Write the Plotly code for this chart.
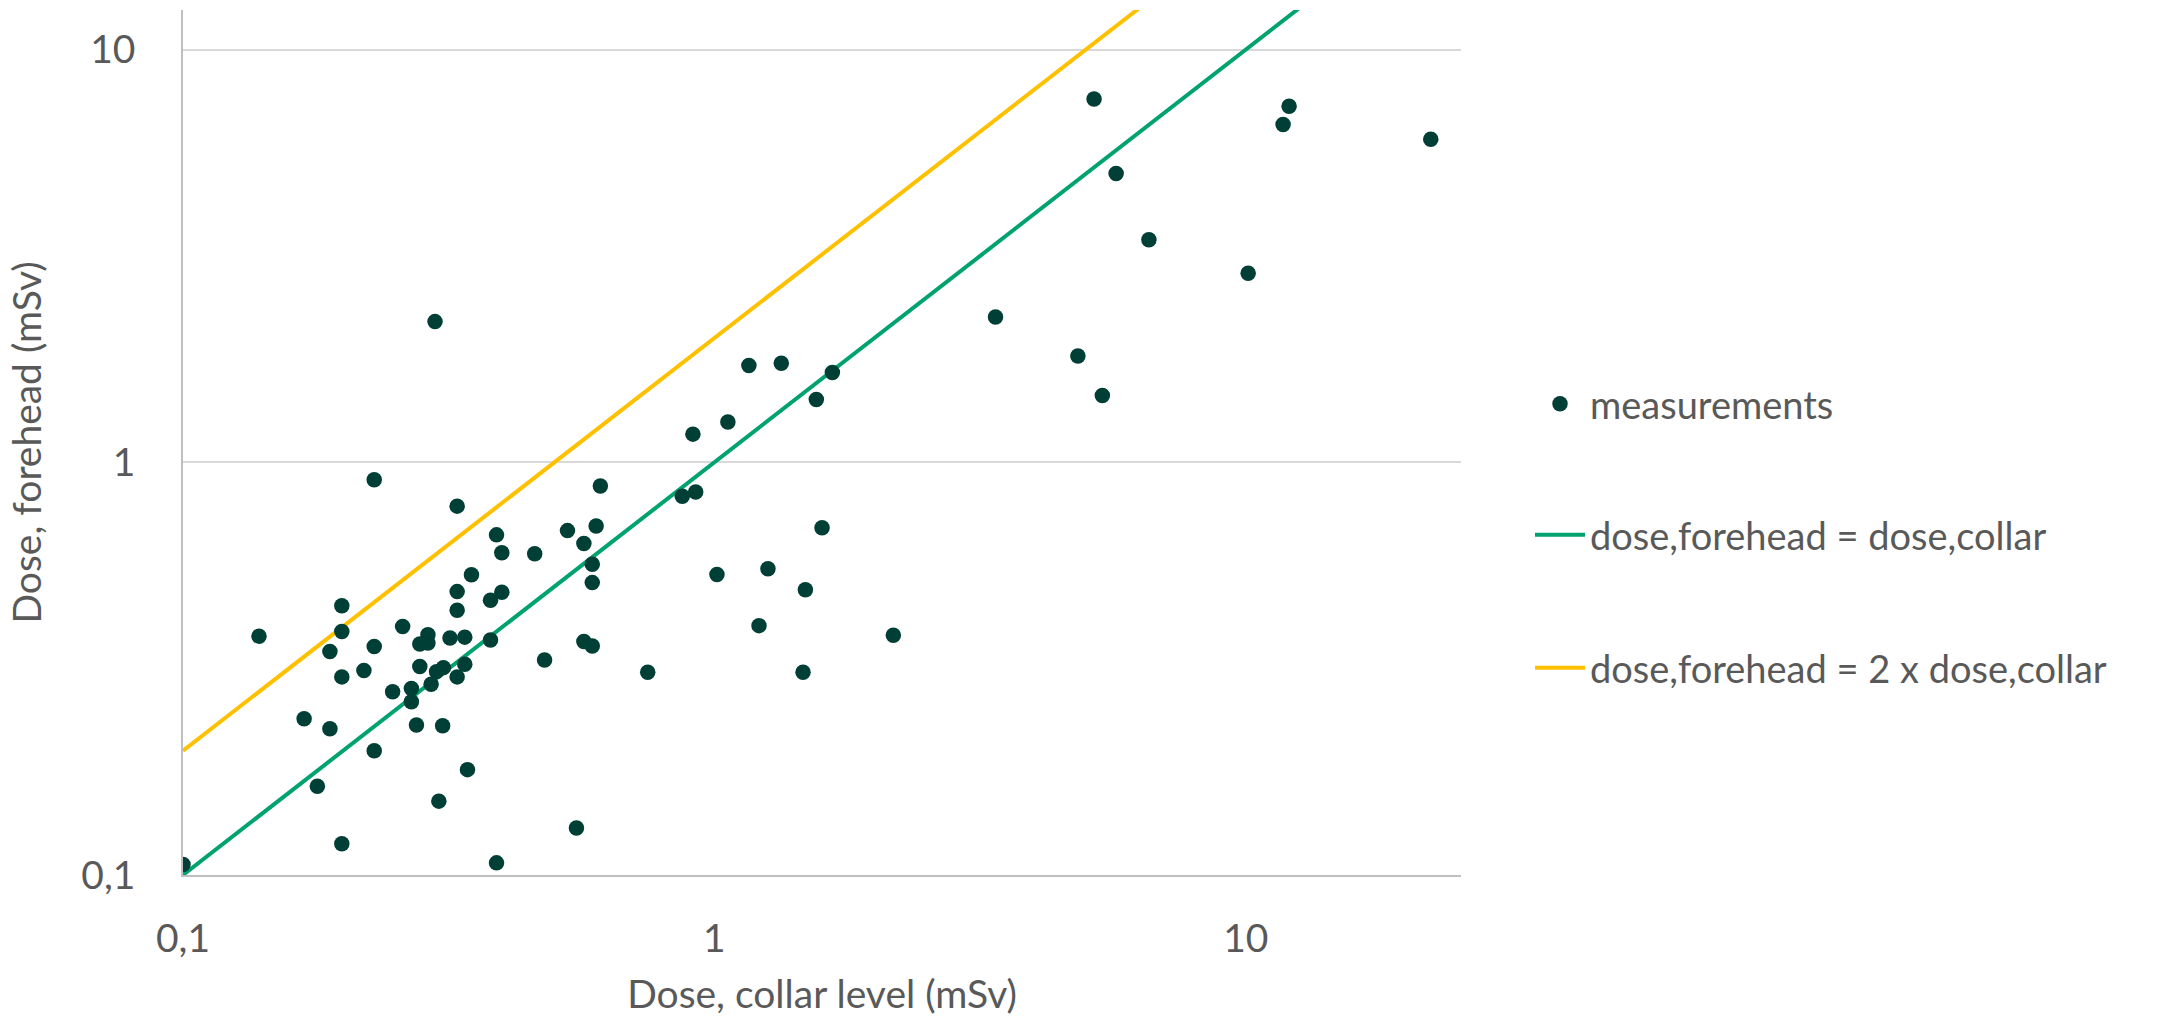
import math
import plotly.graph_objects as go

# Dose measurements (mSv): collar level vs forehead
collar_dose = [
    0.10, 0.139, 0.229, 0.328, 0.610, 0.389, 0.398, 0.459, 0.529, 0.599,
    0.568, 0.589, 0.589, 0.349, 0.328, 0.398, 0.379, 0.328, 0.199, 0.199,
    0.189, 0.229, 0.259, 0.289, 0.279, 0.289, 0.318, 0.339, 0.379, 0.568,
    0.589, 0.479, 0.199, 0.219, 0.279, 0.300, 0.309, 0.339, 0.328, 0.293,
    0.248, 0.269, 0.269, 0.169, 0.189, 0.275, 0.308, 0.229, 0.343, 0.179,
    0.303, 0.550, 0.199, 0.389,
    0.911, 1.060, 0.870, 0.922, 1.594, 1.011, 1.261, 1.483, 1.213, 2.171,
    0.749, 1.468,
    1.161, 1.336, 1.667, 1.555,
    0.298,
    5.18, 12.06, 11.75, 22.28, 5.70, 6.57, 10.10, 3.38, 4.83, 5.37,
]
forehead_dose = [
    0.106, 0.379, 0.907, 0.783, 0.876, 0.667, 0.604, 0.600, 0.683, 0.701,
    0.636, 0.566, 0.511, 0.534, 0.486, 0.484, 0.463, 0.438, 0.449, 0.389,
    0.348, 0.358, 0.400, 0.382, 0.363, 0.365, 0.375, 0.377, 0.371, 0.368,
    0.359, 0.332, 0.302, 0.313, 0.320, 0.311, 0.318, 0.324, 0.302, 0.290,
    0.278, 0.283, 0.263, 0.239, 0.226, 0.231, 0.230, 0.200, 0.180, 0.164,
    0.151, 0.130, 0.119, 0.107,
    1.170, 1.252, 0.827, 0.847, 0.694, 0.535, 0.552, 0.491, 0.402, 0.381,
    0.310, 0.310,
    1.716, 1.738, 1.651, 1.419,
    2.192,
    7.59, 7.29, 6.58, 6.06, 5.01, 3.46, 2.87, 2.25, 1.810, 1.451,
]

# Reference lines: forehead dose as a multiple of collar dose
ref_collar = [0.1, 25.4]
ratio_equal = 1
ratio_double = 2

tick_vals = [0.1, 1, 10]
tick_text = ["0,1", "1", "10"]

x_min, x_max = 0.1, 25.4
y_min, y_max = 0.1, 12.47

TEXT = "#595959"
FONT = "Lato"
FS = 39

fig = go.Figure()

fig.add_trace(go.Scatter(
    x=ref_collar, y=[ratio_equal * v for v in ref_collar],
    mode="lines", name="dose,forehead = dose,collar",
    line=dict(color="#00A36F", width=4),
    legend="legend2", cliponaxis=True,
))
fig.add_trace(go.Scatter(
    x=ref_collar, y=[ratio_double * v for v in ref_collar],
    mode="lines", name="dose,forehead = 2 x dose,collar",
    line=dict(color="#FFC000", width=4),
    legend="legend3", cliponaxis=True,
))
fig.add_trace(go.Scatter(
    x=collar_dose, y=forehead_dose,
    mode="markers", name="measurements",
    marker=dict(color="#003F35", size=15.5, line=dict(width=0)),
    legend="legend",
))

legend_common = dict(
    xref="container", yref="container",
    xanchor="left", yanchor="middle",
    bgcolor="rgba(0,0,0,0)",
    font=dict(family=FONT, size=38, color=TEXT),
    itemwidth=50,
)

fig.update_layout(
    width=2164, height=1019,
    margin=dict(l=183, r=703, t=10, b=136),
    paper_bgcolor="white", plot_bgcolor="white",
    font=dict(family=FONT, size=FS, color=TEXT),
    showlegend=True,
    legend=dict(x=1530 / 2164, y=1 - 404 / 1019, **legend_common),
    legend2=dict(x=1530 / 2164, y=1 - 535 / 1019, **legend_common),
    legend3=dict(x=1530 / 2164, y=1 - 668 / 1019, **legend_common),
    xaxis=dict(
        type="log",
        range=[math.log10(x_min), math.log10(x_max)],
        tickvals=tick_vals, ticktext=tick_text,
        showgrid=False, zeroline=False,
        showline=True, linecolor="#BFBFBF", linewidth=1.5,
        ticks="", ticklabelstandoff=28,
        tickfont=dict(family=FONT, size=FS, color=TEXT),
        title=dict(text="Dose, collar level (mSv)", standoff=22,
                   font=dict(family=FONT, size=FS, color=TEXT)),
    ),
    yaxis=dict(
        type="log",
        range=[math.log10(y_min), math.log10(y_max)],
        tickvals=tick_vals, ticktext=tick_text,
        showgrid=True, gridcolor="#D9D9D9", gridwidth=1.5,
        zeroline=False,
        showline=True, linecolor="#BFBFBF", linewidth=1.5,
        ticks="", ticklabelstandoff=38,
        tickfont=dict(family=FONT, size=FS, color=TEXT),
        title=dict(text="Dose, forehead (mSv)", standoff=28,
                   font=dict(family=FONT, size=FS, color=TEXT)),
    ),
)

fig.write_html("out.html")
